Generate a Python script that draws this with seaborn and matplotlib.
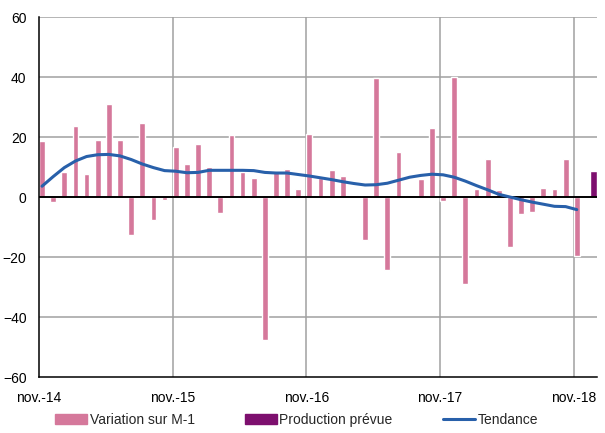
import numpy as np
import pandas as pd
import matplotlib
matplotlib.use("Agg")
import matplotlib.pyplot as plt
import seaborn as sns
from matplotlib.patches import Patch
from matplotlib.lines import Line2D

# Données mensuelles, nov.-14 -> nov.-18
variation = [18.7, -1.8, 8.5, 23.6, 7.6, 19.0, 31.1, 19.0, -12.7, 24.7,
             -7.8, -1.1, 16.7, 11.1, 17.7, 10.1, -5.2, 20.7, 8.3, 6.2,
             -47.6, 8.3, 9.2, 2.7, 21.1, 6.2, 9.1, 7.1, 0.7, -14.2,
             39.6, -24.2, 15.1, 0.7, 6.1, 23.1, -1.3, 40.0, -29.1, 2.7,
             12.6, 2.2, -16.7, -5.8, -4.9, 3.1, 2.7, 12.6, -19.8]
tendance = [3.6, 6.8, 9.8, 12.0, 13.5, 14.1, 14.2, 13.7, 12.5, 11.0,
            9.8, 8.8, 8.6, 8.1, 8.2, 8.9, 8.9, 8.9, 8.9, 8.8,
            8.2, 8.0, 8.0, 7.5, 7.0, 6.4, 5.8, 5.1, 4.5, 4.0,
            4.1, 4.6, 5.6, 6.6, 7.2, 7.6, 7.4, 6.6, 5.3, 3.8,
            2.4, 0.9, 0.0, -0.9, -1.7, -2.4, -3.1, -3.2, -4.2]
production_prevue = [8.7]
tick_labels = ["nov.-14", "nov.-15", "nov.-16", "nov.-17", "nov.-18"]

mois = np.arange(len(variation))
df = pd.DataFrame({"mois": mois + 0.27, "variation": variation, "tendance": tendance})

sns.set_style("white")
plt.rcParams["font.family"] = ["Liberation Sans", "DejaVu Sans"]
plt.rcParams["font.size"] = 10

rose = "#D5789B"
violet = "#7D0F6E"
bleu = "#2860AA"
gris = "#A0A0A0"

fig = plt.figure(figsize=(6.05, 4.33), dpi=100)
ax = fig.add_axes([0.0645, 0.1293, 0.9225, 0.8314])

# grille
for y in [-40, -20, 20, 40, 60]:
    ax.axhline(y, color=gris, lw=1.1, zorder=0)
for x in [12, 24, 36, 48]:
    ax.axvline(x, color=gris, lw=1.1, zorder=0)

ax.bar(df["mois"], df["variation"], width=0.52, color=rose, zorder=2)
ax.bar([len(variation) + 0.75], production_prevue, width=0.62, color=violet, zorder=2)
ax.axhline(0, color="black", lw=1.4, zorder=3)
sns.lineplot(data=df, x="mois", y="tendance", color=bleu, lw=2.2, ax=ax, zorder=4)

ax.set_xlim(0, 50.1)
ax.set_ylim(-60, 60)
ax.set_yticks(range(-60, 61, 20))
ax.set_xticks([0, 12, 24, 36, 48])
ax.set_xticklabels(tick_labels)
ax.set_xlabel("")
ax.set_ylabel("")
ax.tick_params(axis="both", length=0, labelsize=10, colors="black")
ax.tick_params(axis="y", pad=9)
ax.tick_params(axis="x", pad=10)

for s in ["top", "right"]:
    ax.spines[s].set_visible(False)
for s in ["left", "bottom"]:
    ax.spines[s].set_color("black")
    ax.spines[s].set_linewidth(1.1)

handles = [Patch(color=rose), Patch(color=violet), Line2D([], [], color=bleu, lw=2.2)]
labels = ["Variation sur M-1", "Production prévue", "Tendance"]
fig.legend(handles, labels, loc="lower center", bbox_to_anchor=(0.49, -0.014), ncol=3,
           frameon=False, handlelength=2.3, handleheight=0.7, handletextpad=0.2,
           columnspacing=3.6, fontsize=10)

fig.savefig("out.png", dpi=100)
